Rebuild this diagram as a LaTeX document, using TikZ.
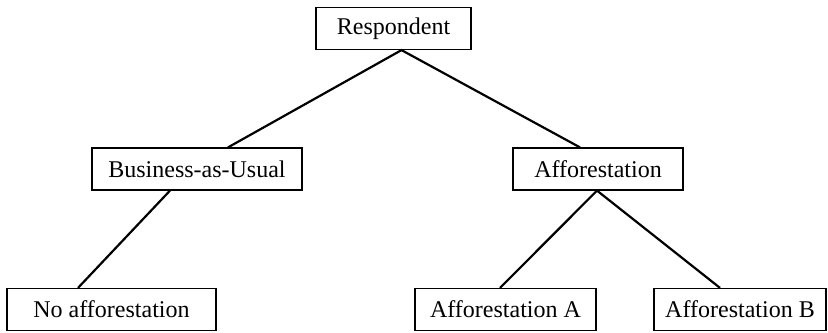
\documentclass[tikz,border=0pt]{standalone}
\usepackage{fontspec}
\setmainfont{Liberation Serif}
\usetikzlibrary{calc}
\begin{document}
\begin{tikzpicture}[x=0.5pt,y=-0.5pt,
  box/.style={draw, line width=0.6pt, inner sep=0pt, minimum height=21pt, font=\fontsize{12}{14}\selectfont},
  branch/.style={line width=1.1pt}]
\useasboundingbox (0,0) rectangle (828,332);
\node[box, minimum width=77.5pt] (resp) at (393.5,28.5) {Respondent};
\node[box, minimum width=105pt] (bau) at (197,169) {Business-as-Usual};
\node[box, minimum width=85pt] (aff) at (598,169) {Afforestation};
\node[box, minimum width=104.5pt] (noaff) at (111.5,309.5) {No afforestation};
\node[box, minimum width=90.5pt] (affa) at (505.5,309.5) {Afforestation A};
\node[box, minimum width=86pt] (affb) at (740,309.5) {Afforestation B};
\draw[branch] ($(bau.north)+(31,0)$) -- ($(resp.south)+(8,0)$) -- ($(aff.north)+(-18,0)$);
\draw[branch] ($(bau.south)+(-27,0)$) -- ($(noaff.north)+(-33.5,0)$);
\draw[branch] ($(affa.north)+(-5.5,0)$) -- ($(aff.south)+(-1,0)$) -- ($(affb.north)+(-20,0)$);
\end{tikzpicture}
\end{document}
